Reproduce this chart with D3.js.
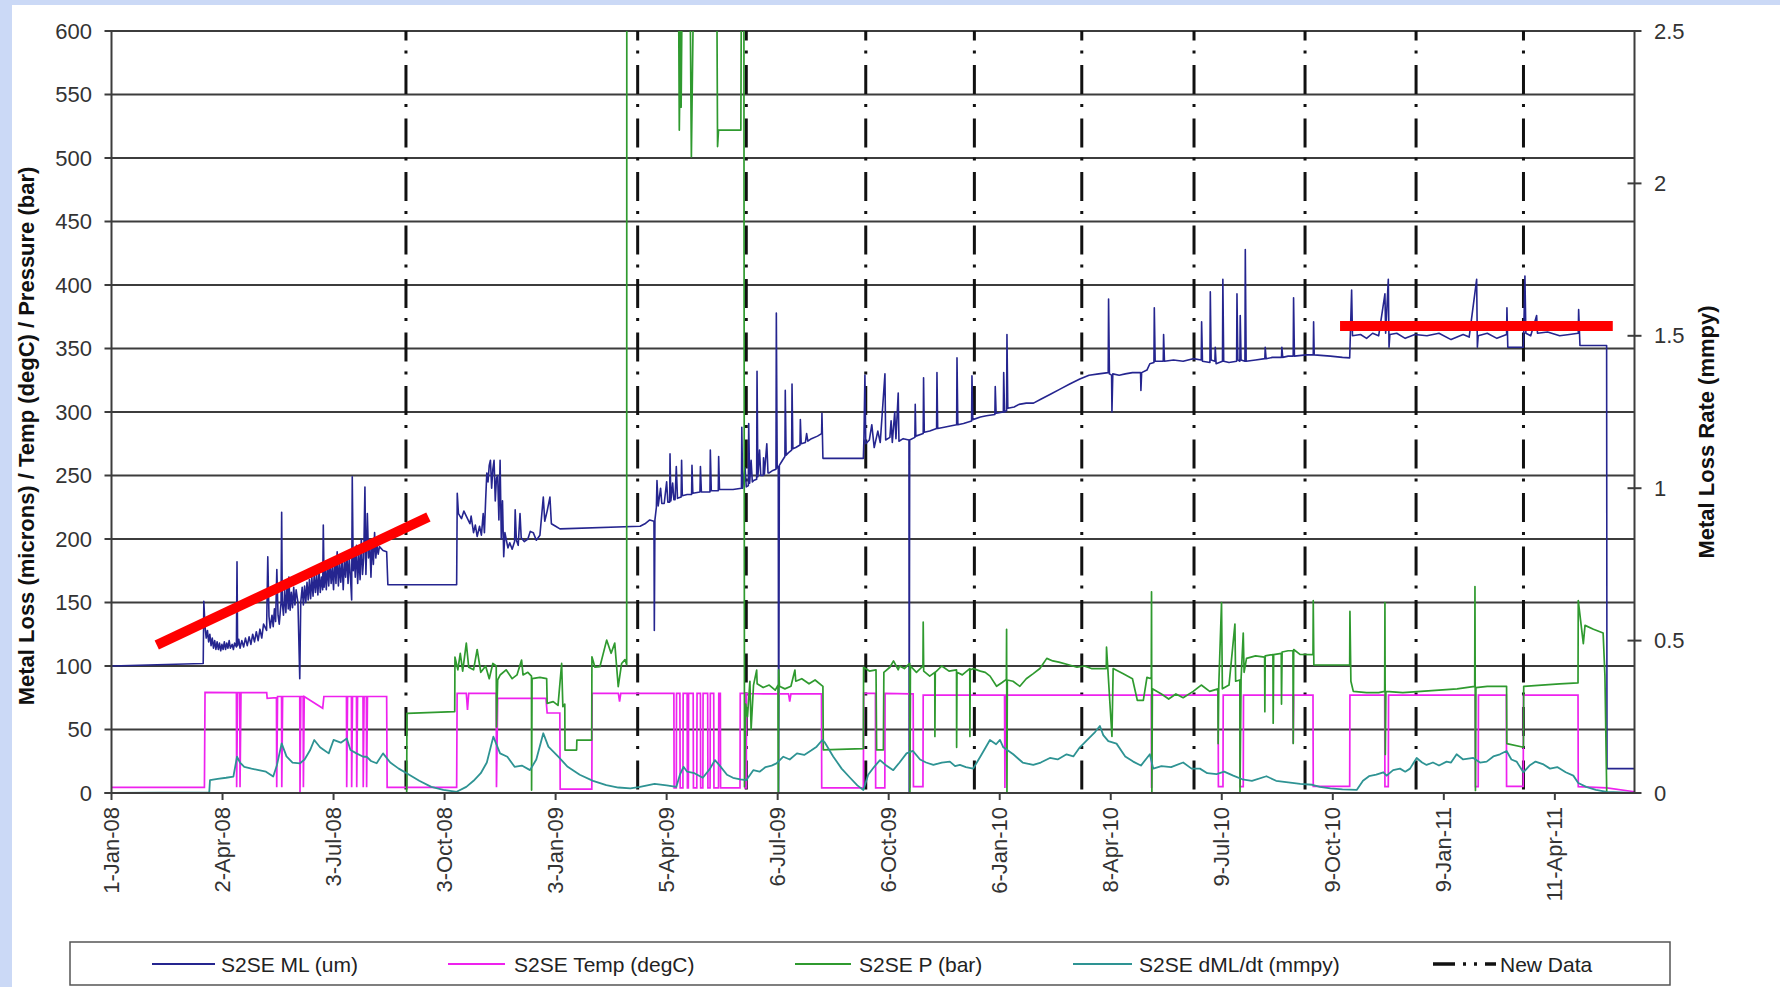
<!DOCTYPE html>
<html><head><meta charset="utf-8">
<script src="https://cdn.jsdelivr.net/npm/d3@7"></script>
<style>
body{margin:0;background:#cbd9f6;overflow:hidden;}
text{font-family:"Liberation Sans",Arial,sans-serif;}
</style>
</head><body>
<svg id="chart" width="1780" height="987"></svg>
<script>
// ---------- DATA (x values are days since 1-Jan-08) ----------
const startDate = "2008-01-01";
const axisEndDay = 1262;
const xTickStepDays = 92;
const leftTicks = [0,50,100,150,200,250,300,350,400,450,500,550,600];
const rightTicks = [0,0.5,1,1.5,2,2.5];
const newDataDates = ["2008-09-01","2009-03-12","2009-06-10","2009-09-17","2009-12-16","2010-03-15","2010-06-16","2010-09-16","2010-12-17","2011-03-16"];
const seriesNames = ["S2SE ML (um)","S2SE Temp (degC)","S2SE P (bar)","S2SE dML/dt (mmpy)","New Data"];
const seriesColors = ["#25258f","#ee22ee","#2f9a2f","#2e9393","#111111"];

// S2SE ML (um)
const mlData = [[0,100],[76,102],[76.5,151],[77.5,131],[78.5,122],[79.5,128],[80.5,119],[81.5,125],[82.5,116],[83.5,122],[84.5,114],[85.5,120],[86.5,113],[87.5,119],[88.5,113],[89.5,118],[90.5,112],[91.5,117],[92.5,113],[93.5,119],[94.5,113],[95.5,118],[96.5,114],[97.5,120],[98.5,114],[100,117],[101,113],[102,118],[103.5,115],[104,182],[104.5,116],[105.5,121],[106.5,114],[108,120],[109.5,115],[111,122],[112.5,116],[114,123],[115.5,117],[117,125],[118.5,119],[120,127],[121.5,120],[123,129],[124.5,122],[126,133],[128.5,128],[129.5,186],[130.5,139],[131.5,130],[133,140],[134,131],[135,145],[136,135],[137,176],[138,140],[139,133],[140.5,150],[141,221],[141.5,150],[142.5,140],[143.5,160],[144.5,142],[145.5,165],[146.5,145],[147,170],[148,144],[149,158],[150,146],[151,162],[152,148],[153,160],[154.5,150],[156,90],[156.8,150],[158,162],[159,148],[160,163],[161,150],[162,166],[163,152],[164,168],[165,153],[166,170],[167,155],[168,172],[169,158],[170,172],[171,156],[172,175],[173,158],[174,170],[175,160],[175.5,211],[176.2,162],[177,178],[178,160],[179,180],[180,163],[181,182],[182,165],[183,178],[184,160],[185,185],[186,165],[187,190],[188,163],[189,180],[190,166],[191,185],[192,160],[193,183],[194,170],[195,190],[196,165],[197,185],[198,170],[199,152],[199.5,249],[200.3,175],[201,192],[202,170],[203,195],[204,165],[205,188],[206,168],[207,200],[208,172],[209,185],[210,241],[210.8,172],[211.5,195],[212,220],[213,185],[214,198],[215,170],[216,200],[217,180],[218,205],[219,185],[220,195],[221,188],[222,194],[225,191],[228,190],[229,164],[286,164],[286.5,236],[287.5,220],[290,216],[292,222],[294,218],[297,212],[298,218],[300,205],[301.5,211],[303,202],[305,210],[306.5,203],[308,220],[309,205],[310,230],[311,252],[312,245],[313,258],[314,262],[315,240],[316,255],[317,262],[318,230],[319,248],[320,250],[321,215],[322,262],[323,200],[324,230],[325,186],[326,205],[327,200],[328.5,193],[330,197],[332,192],[334,198],[334.5,223],[335.5,199],[337,195],[338.5,220],[339.5,201],[342,198],[345,200],[347,206],[349.5,205],[352,199],[355,203],[357.8,233],[359,214],[361,222],[363.3,233],[364.5,212],[368,210],[371.6,208],[438,210],[442,212],[446,215],[449.5,214],[449.8,128],[450.3,215],[451.5,225],[452,246],[453,226],[455,240],[456,228],[458,228],[460,245],[461,229],[462.5,229],[462.8,267],[463.5,230],[465,244],[466,231],[467,231],[468,257],[469,232],[472,233],[472.4,262],[473,234],[477,235],[480.7,235],[481,258],[481.7,236],[487.6,237],[488,257],[488.8,237],[495.9,237],[496.2,270],[497,238],[502.8,238],[503.1,265],[503.8,239],[510,239],[515,239],[522,240],[522.3,288],[523,240],[525,256],[526,241],[527.7,242],[528,291],[528.8,244],[530,262],[531,245],[532,246],[534.6,247],[534.9,332],[535.6,249],[537,270],[538,250],[540,250],[540.3,264],[541,251],[543,275],[544,252],[545,252],[548,254],[550.6,255],[550.9,378],[551.6,256],[552.5,257],[552.8,0],[553.4,258],[556,262],[558,265],[558.3,317],[559,266],[561,268],[563.6,270],[563.9,322],[564.6,271],[567,272],[570.5,274],[570.8,294],[571.5,275],[575,276],[576,283],[577,277],[580,279],[585,281],[588.4,283],[588.7,299],[589.5,263.5],[623,263.5],[623.5,280],[624.3,329],[625,275],[628,278],[630,290],[632,272],[635,285],[637,276],[640.9,330],[641.5,278],[645,280],[646,293],[647,276],[649,300],[650,279],[651.9,315],[652.5,277],[656,279],[660.8,278],[661,0],[661.4,278],[665.7,280],[666,306],[666.5,281],[672.6,283],[672.9,327],[673.5,284],[678,285],[683.7,287],[684,331],[684.6,287],[690,288],[695,289],[700.3,290],[700.6,342.6],[701.3,290],[706,291],[712.7,293],[713,328.5],[713.7,294],[720,296],[725,297],[732,298],[732.3,320],[733,299],[739,300],[739.3,331],[740,300],[741.7,301],[742,361],[742.7,303],[748,304],[752,306],[758,307],[764,307],[770,310],[778,314],[786,318],[794,322],[802.4,326],[810,329],[818,330],[825.9,331],[826.2,389],[826.9,330],[828.7,329],[829,300],[829.7,330],[835,329],[840,330],[846,331],[852.7,331],[853,317],[853.6,331],[858,333],[860.4,338],[863.8,339],[864.1,382],[864.8,340],[871.5,340],[871.8,361],[872.5,340],[880,341],[888,340],[896.3,342],[903,341],[903.3,371],[904,340],[910.2,339],[910.5,394.6],[911.2,341],[914.3,340],[914.6,351],[915.3,338],[920.6,340],[920.9,404.5],[921.6,340],[926,339],[932.3,340],[932.6,393],[933.3,341],[935,340],[935.3,376],[936,341],[939.2,340],[939.5,428],[940.2,340],[948,341],[955.7,342],[956,351],[956.7,342],[962,343],[969.5,343],[969.8,351],[970.5,343],[975,344],[979.2,344],[979.5,390],[980.2,344],[990,345],[995.8,345],[996.1,371],[996.6,345],[1010,344],[1020,343],[1026,342.6],[1026.5,359.5],[1027.6,396],[1028.3,360],[1035,361],[1040,358],[1045,362],[1050,360],[1055.2,393],[1055.8,362],[1058,404.5],[1058.6,351],[1059.3,361],[1065,362],[1072,358],[1080,361],[1090,360],[1100,362],[1110,357],[1120,361],[1125,359],[1131.2,404.5],[1131.8,351],[1132.5,360],[1140,362],[1148,358],[1156,361],[1156.3,382],[1157,351],[1169.9,351],[1170.2,362],[1171.2,407],[1172,362],[1176,360],[1180.9,376],[1181.6,362],[1190,363],[1200,360],[1208,361],[1215.4,362],[1215.7,380.6],[1216.8,352.4],[1238.9,352.4],[1239.2,19.2],[1262,19.2]];

// S2SE Temp (degC)
const tempData = [[0,4.5],[77,4.5],[77.5,79.3],[103.5,79],[103.7,4.5],[104.5,79],[106.3,79],[106.5,4.5],[107.3,79],[128.6,79],[129,74.5],[136.7,75],[136.9,4.5],[137.6,76],[140.9,76],[141.1,4.5],[141.8,76],[156,76],[156.2,0],[156.9,76],[158.8,76],[159,4.5],[159.7,76],[175,66.7],[176,76],[194.7,76],[194.9,4.5],[195.6,76],[198.8,76],[199,4.5],[199.7,76],[203,76],[203.2,4.5],[203.9,76],[208.4,76],[208.6,4.5],[209.3,76],[211.2,76],[211.4,4.5],[212.1,76],[228,76],[228.4,4.5],[286,4.5],[286.4,78.5],[294,78.5],[295,65.4],[296,78.5],[318.8,78.5],[319,4.5],[320,74.5],[345,74.5],[360,74.5],[361,63],[371.5,63],[371.8,3],[398,3],[398.3,78.5],[420,78.5],[421,72],[422,78.5],[466,78.5],[466.2,4],[468,4],[468.2,78.5],[471,78.5],[471.2,4],[473.5,4],[473.7,78.5],[477,78.5],[477.2,4],[478,4],[478.2,78.5],[482,78.5],[482.2,4],[485,4],[485.2,78.5],[488,78.5],[488.2,4],[490,4],[490.2,78.5],[494,78.5],[494.2,4],[496,4],[496.2,78.5],[499,78.5],[499.2,4],[503,4],[503.2,78.5],[504.5,78.5],[504.7,4],[520.8,4],[521,78.5],[524.8,78.5],[525,4],[526,4],[526.2,78.5],[540,78],[561,78],[562,72],[563,78],[588.3,78],[588.5,4],[623,4],[623.3,78.5],[633,78.5],[633.2,4],[640.8,4],[641,78.5],[661.4,78],[661.6,4],[662,78],[664.3,78],[664.5,5],[672.4,5],[672.6,77],[740,77],[740.3,4],[740.7,77],[861.6,77],[861.8,4],[862.2,77],[917,77],[917.2,5],[921,5],[921.2,77],[935,77],[935.2,5],[937.8,5],[938,77],[979,77],[979.2,39],[979.6,77],[995.6,77],[995.8,5.2],[1026,5.2],[1026.2,77],[1055,77],[1055.2,5],[1058,5],[1058.2,77],[1130,77],[1130.2,5],[1132.5,5],[1132.7,77],[1155.8,77],[1156,5.2],[1169.8,5.2],[1170,77],[1215.2,77],[1215.4,5],[1239,4],[1262,1]];

// S2SE P (bar)
const pressData = [[0,0],[244.6,0],[244.8,62.7],[284.4,64],[284.6,107],[287,97],[289,110],[291,96],[294,118],[296,99],[300,97],[303,113],[306,95],[310,100],[313,90],[316,102],[318.8,100],[319,52],[320,89],[322,92.9],[327,97],[332,90],[336,93],[339.8,104.7],[341,93],[345,95],[348,92],[348.1,2.3],[348.5,90],[355,91],[360.6,90],[361,70.6],[366,72],[370,69],[373,102],[374,68],[375.6,70],[375.8,33.8],[385.4,33.8],[385.6,41.7],[397.9,41.7],[398.1,107.3],[400.6,99],[404.7,99.4],[410.3,120.4],[414,110],[417,118],[419.9,83.7],[422.7,102],[425.5,105],[426.9,101],[427,650],[469.8,650],[470.5,522],[471.5,600],[472,540],[473,650],[479.3,650],[480.5,501],[482.5,650],[501.5,650],[502.2,509],[503,522],[521.5,522],[522,650],[524,650],[524.5,5],[525.5,70],[527,60],[529,88],[530,50],[532,85],[534.6,96.8],[535,86],[540,83],[545,85],[550,81],[552.3,85],[552.5,0],[552.8,97],[553.5,84],[558,82],[563,84],[566.3,96.8],[567,88],[572,90],[578,86],[583,89],[589.5,84],[589.8,34],[623,35],[623.2,99],[628,96],[633.5,97],[634,34],[639.6,34],[640,95],[645,99],[648,104],[651.9,97],[653,100],[657,98],[661.4,102],[661.6,0],[662,100],[667,95],[672.4,100],[672.6,134.5],[673,96],[678,92],[682.2,95],[682.3,44.5],[682.6,95],[688,100],[694,96],[700.2,97],[700.3,36],[700.6,95],[705,93],[711.2,98],[711.3,44.5],[711.6,97],[714,97.9],[720,96],[724,95],[728,92],[733.4,84],[738,87],[741.5,89.5],[741.7,128.9],[742,0],[742.3,89],[747,88],[752.7,84],[758,90],[763.8,94],[769.3,98],[775,106],[780,104],[785,103],[793,101],[800,99],[806,100],[812,98],[818,98],[824.3,98],[824.5,114.8],[829,44.5],[830,98],[838,94],[846,90],[850,73],[855,73],[858,91],[861.6,90],[861.8,158.4],[862.1,0],[862.5,82],[870,78],[876,74],[882,78],[888,75],[896.3,80],[903,85],[910,80],[916.8,82],[917,38.9],[917.5,84],[919.8,150],[920.5,82],[926,85],[930.9,133],[931.5,88],[935,89],[935.1,0],[936,90],[937.8,126],[938.5,95],[940.5,106],[948,108],[955.5,107],[955.7,64],[956,108],[962.4,109],[962.6,55],[963,109],[969.3,110],[969.5,70],[970,111],[975,112],[979,112],[979.2,39],[979.6,113],[984.8,109.2],[995.6,109],[995.8,151.4],[996.3,100.8],[1026,100.8],[1026.2,143],[1027,88],[1029,80],[1040,79],[1050,79],[1055,80],[1055.2,150],[1055.5,30.4],[1056,80],[1070,79],[1085,80],[1100,81],[1115,82],[1129.6,84],[1129.8,162.6],[1130.2,2],[1130.6,83],[1140,84],[1150,84],[1156,84],[1156.2,38.9],[1170,36],[1170.2,84],[1185,85],[1200,86],[1215.2,86.7],[1215.4,151.4],[1219.6,117.6],[1221,132],[1228,129],[1236,126],[1237.5,92.3],[1239,0],[1262,0]];

// S2SE dML/dt (mmpy) - right axis
const rateData = [[0,0],[81,0.002],[81.6,0.042],[88,0.046],[95,0.05],[101,0.054],[104,0.119],[106.5,0.1],[110,0.086],[116,0.08],[122,0.075],[128,0.07],[134,0.054],[137,0.09],[141,0.163],[145,0.12],[150,0.1],[156,0.097],[160,0.11],[164.5,0.14],[168,0.174],[172.8,0.15],[176,0.141],[180,0.13],[184,0.174],[190,0.165],[195,0.179],[198,0.141],[203,0.13],[208.6,0.119],[211.4,0.119],[215,0.105],[219.7,0.0975],[225,0.13],[231,0.1],[238,0.08],[244.6,0.065],[255,0.04],[265,0.02],[275,0.01],[286,0.004],[294,0.02],[300,0.04],[306,0.065],[311,0.1],[316.4,0.185],[322,0.13],[328,0.119],[334,0.086],[340,0.09],[346.8,0.075],[352,0.11],[357.8,0.196],[362,0.152],[370,0.12],[378,0.086],[388,0.06],[399,0.04],[410,0.026],[420,0.018],[430,0.015],[438,0.02],[450,0.03],[460,0.025],[468,0.02],[471,0.06],[474,0.086],[477,0.07],[483,0.065],[490,0.05],[496,0.08],[500,0.108],[504,0.09],[510,0.06],[515,0.05],[521,0.045],[526,0.042],[531.8,0.075],[537,0.07],[542,0.085],[547,0.09],[551,0.097],[556.7,0.119],[562,0.11],[568,0.13],[574,0.125],[580,0.14],[584.3,0.152],[589,0.174],[591.2,0.165],[598,0.12],[605,0.08],[612,0.05],[618,0.025],[623,0.01],[627,0.06],[632,0.086],[636.8,0.108],[642,0.09],[647.8,0.075],[653,0.1],[658.8,0.13],[664,0.138],[670,0.11],[675,0.1],[681,0.092],[688,0.1],[694.7,0.103],[699,0.088],[703,0.092],[708,0.085],[714,0.08],[720,0.12],[727.9,0.174],[733,0.16],[736.2,0.174],[739,0.15],[747.2,0.127],[755,0.1],[763.8,0.092],[770,0.1],[777.6,0.115],[784,0.11],[791.4,0.127],[797,0.12],[802.4,0.15],[810,0.18],[815,0.2],[819,0.22],[821.8,0.19],[826,0.17],[832.8,0.162],[840,0.12],[846.6,0.103],[853,0.09],[860.4,0.127],[863.2,0.08],[870,0.088],[878,0.085],[888,0.1],[895,0.08],[901.9,0.08],[908,0.065],[915.7,0.062],[922,0.07],[929.5,0.057],[937,0.045],[945,0.04],[957,0.055],[965,0.04],[975,0.035],[985,0.03],[995,0.027],[1001.3,0.02],[1010,0.015],[1020,0.012],[1031.8,0.01],[1037,0.04],[1042,0.055],[1048,0.06],[1053.9,0.068],[1056.6,0.057],[1062,0.075],[1067.7,0.08],[1072,0.07],[1076,0.08],[1081.5,0.115],[1086,0.1],[1089.7,0.092],[1095,0.1],[1100,0.09],[1106.3,0.103],[1110,0.1],[1114.6,0.127],[1120,0.11],[1128.4,0.115],[1134,0.1],[1139.5,0.103],[1145,0.12],[1150.5,0.127],[1156,0.138],[1160,0.11],[1164.3,0.103],[1169.9,0.068],[1175,0.09],[1180,0.103],[1186,0.095],[1192,0.08],[1198,0.085],[1205,0.068],[1211.3,0.057],[1215.4,0.033],[1222,0.02],[1230,0.01],[1239,0.004],[1262,0]];

// red trend annotations [day, microns]
const redTrend1 = [[37.5,116.5],[262.6,217.4]];
const redTrend2 = [[1018,367.7],[1244,367.7]];

// ---------- CHART ----------
const W = 1780, H = 987;
const M = {left:111.5, right:1634.5, top:31, bottom:793};
const svg = d3.select("#chart");
const start = new Date(startDate + "T00:00:00Z");
const dayToDate = d => new Date(start.getTime() + d * 864e5);

const x = d3.scaleUtc().domain([start, dayToDate(axisEndDay)]).range([M.left, M.right]);
const yL = d3.scaleLinear().domain([0,600]).range([M.bottom, M.top]);
const yR = d3.scaleLinear().domain([0,2.5]).range([M.bottom, M.top]);

svg.append("rect").attr("width",W).attr("height",H).attr("fill","#cbd9f6");
svg.append("rect").attr("x",12).attr("y",5).attr("width",W-12).attr("height",H-5).attr("fill","#ffffff");

svg.append("defs").append("clipPath").attr("id","plotclip")
  .append("rect").attr("x",M.left).attr("y",M.top).attr("width",M.right-M.left).attr("height",M.bottom-M.top);

const gridColor = "#3c3c3c";
svg.append("g").selectAll("line").data(leftTicks).join("line")
  .attr("x1", M.left-7).attr("x2", M.right)
  .attr("y1", d=>yL(d)).attr("y2", d=>yL(d))
  .attr("stroke", gridColor).attr("stroke-width", 2);

svg.append("g").selectAll("line").data(newDataDates).join("line")
  .attr("x1", d=>x(new Date(d+"T00:00:00Z"))).attr("x2", d=>x(new Date(d+"T00:00:00Z")))
  .attr("y1", M.top).attr("y2", M.bottom)
  .attr("stroke","#111").attr("stroke-width",3)
  .attr("stroke-dasharray","29,10,3,11.5").attr("stroke-dashoffset",19.5);

const plot = svg.append("g").attr("clip-path","url(#plotclip)");
const mk = (ys) => d3.line().x(d=>x(dayToDate(d[0]))).y(d=>ys(d[1]));
plot.append("path").datum(mlData).attr("d", mk(yL)).attr("fill","none").attr("stroke",seriesColors[0]).attr("stroke-width",1.6).attr("stroke-linejoin","round");
plot.append("path").datum(tempData).attr("d", mk(yL)).attr("fill","none").attr("stroke",seriesColors[1]).attr("stroke-width",1.7);
plot.append("path").datum(pressData).attr("d", mk(yL)).attr("fill","none").attr("stroke",seriesColors[2]).attr("stroke-width",1.7).attr("stroke-linejoin","round");
plot.append("path").datum(rateData).attr("d", mk(yR)).attr("fill","none").attr("stroke",seriesColors[3]).attr("stroke-width",1.8).attr("stroke-linejoin","round");

svg.append("line").attr("x1",M.left).attr("x2",M.left).attr("y1",M.top).attr("y2",M.bottom).attr("stroke",gridColor).attr("stroke-width",2);
svg.append("line").attr("x1",M.right).attr("x2",M.right).attr("y1",M.top).attr("y2",M.bottom).attr("stroke",gridColor).attr("stroke-width",2);
svg.append("line").attr("x1",M.left-7).attr("x2",M.right).attr("y1",M.bottom).attr("y2",M.bottom).attr("stroke",gridColor).attr("stroke-width",2);

svg.append("g").selectAll("line").data(rightTicks).join("line")
  .attr("x1",M.right-7).attr("x2",M.right+7).attr("y1",d=>yR(d)).attr("y2",d=>yR(d))
  .attr("stroke",gridColor).attr("stroke-width",2);

const xTickDays = d3.range(0, axisEndDay, xTickStepDays);
const fmt = d3.utcFormat("%-d-%b-%y");
svg.append("g").selectAll("line").data(xTickDays).join("line")
  .attr("x1",d=>x(dayToDate(d))).attr("x2",d=>x(dayToDate(d)))
  .attr("y1",M.bottom).attr("y2",M.bottom+7).attr("stroke",gridColor).attr("stroke-width",2);
svg.append("g").selectAll("text").data(xTickDays).join("text")
  .attr("transform",d=>`translate(${x(dayToDate(d))},${M.bottom+14}) rotate(-90)`)
  .attr("text-anchor","end").attr("dominant-baseline","central")
  .attr("font-size",22).attr("fill","#333").text(d=>fmt(dayToDate(d)));

svg.append("g").selectAll("text").data(leftTicks).join("text")
  .attr("x",92).attr("y",d=>yL(d)).attr("text-anchor","end").attr("dominant-baseline","central")
  .attr("font-size",22).attr("fill","#333").text(d=>d);
svg.append("g").selectAll("text").data(rightTicks).join("text")
  .attr("x",1654).attr("y",d=>yR(d)).attr("text-anchor","start").attr("dominant-baseline","central")
  .attr("font-size",22).attr("fill","#333").text(d=>d);

svg.append("text").attr("transform","translate(26,436) rotate(-90)")
  .attr("text-anchor","middle").attr("dominant-baseline","central")
  .attr("font-size",22).attr("font-weight","bold").attr("fill","#111")
  .text("Metal Loss (microns) / Temp (degC) / Pressure (bar)");
svg.append("text").attr("transform","translate(1706,432) rotate(-90)")
  .attr("text-anchor","middle").attr("dominant-baseline","central")
  .attr("font-size",22).attr("font-weight","bold").attr("fill","#111")
  .text("Metal Loss Rate (mmpy)");

[redTrend1, redTrend2].forEach(t => {
  svg.append("line")
    .attr("x1",x(dayToDate(t[0][0]))).attr("y1",yL(t[0][1]))
    .attr("x2",x(dayToDate(t[1][0]))).attr("y2",yL(t[1][1]))
    .attr("stroke","#ff0000").attr("stroke-width",10);
});

const lg = svg.append("g");
lg.append("rect").attr("x",70).attr("y",942).attr("width",1600).attr("height",43)
  .attr("fill","#fff").attr("stroke","#555").attr("stroke-width",1.5);
const legendPos = [[152,215,221],[448,505,514],[795,851,859],[1073,1132,1139],[1433,1496,1500]];
seriesNames.forEach((n,i) => {
  const p = legendPos[i];
  const ln = lg.append("line").attr("x1",p[0]).attr("x2",p[1]).attr("y1",964).attr("y2",964)
    .attr("stroke",seriesColors[i]).attr("stroke-width", i===4 ? 3.5 : 1.8);
  if (i===4) ln.attr("stroke-dasharray","22,8,3,8,3,8,12");
  lg.append("text").attr("x",p[2]).attr("y",964).attr("dominant-baseline","central")
    .attr("font-size",21).attr("fill","#222").text(n);
});
</script>
</body></html>
